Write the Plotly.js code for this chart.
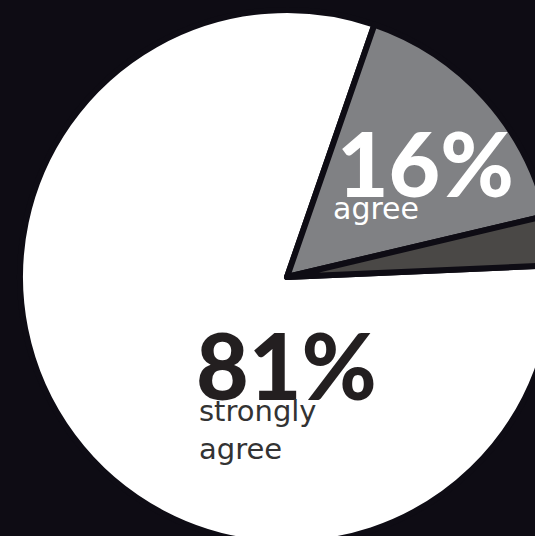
<!DOCTYPE html>
<html>
<head>
<meta charset="utf-8">
<script src="https://cdn.plot.ly/plotly-3.0.1.min.js"></script>
<style>
  html, body { margin:0; padding:0; background:#0e0c14; overflow:hidden; width:535px; height:536px; }
  #chart { position:absolute; left:0; top:0; }
</style>
</head>
<body>
<div id="chart"></div>
<script>
// Data
const categories = ["strongly agree", "agree", "other"];
const values = [81, 16, 3];
const sliceColors = ["#ffffff", "#808184", "#4a4846"];
const bigLabels = ["81%", "16%"];
const smallLabels = ["strongly<br>agree", "agree"];

const BG = "#0e0c14";
const L = 20, T = 10, S = 534;
const px = x => (x - L) / S;
const py = y => 1 - (y - T) / S;

const trace = {
  type: "pie",
  labels: categories,
  values: values,
  sort: false,
  direction: "clockwise",
  rotation: 87.5,
  textinfo: "none",
  hoverinfo: "none",
  marker: { colors: sliceColors, line: { color: BG, width: 6 } },
  showlegend: false
};

const layout = {
  width: L + S,
  height: T + S,
  margin: { l: L, t: T, r: 0, b: 0, pad: 0 },
  paper_bgcolor: BG,
  plot_bgcolor: BG,
  showlegend: false,
  annotations: [
    { text: bigLabels[1], xref: "paper", yref: "paper", x: px(425), y: py(162), xanchor: "center", yanchor: "middle",
      showarrow: false, font: { family: "Lato", size: 89, weight: 900, color: "#ffffff" } },
    { text: smallLabels[1], xref: "paper", yref: "paper", x: px(331), y: py(208), xanchor: "left", yanchor: "middle",
      showarrow: false, font: { family: "DejaVu Sans", size: 30, color: "#ffffff" } },
    { text: bigLabels[0], xref: "paper", yref: "paper", x: px(286), y: py(364), xanchor: "center", yanchor: "middle",
      showarrow: false, font: { family: "Lato", size: 91, weight: 900, color: "#231f20" } },
    { text: smallLabels[0], xref: "paper", yref: "paper", x: px(197), y: py(430), xanchor: "left", yanchor: "middle",
      align: "left", showarrow: false, font: { family: "DejaVu Sans", size: 29, color: "#333333" } }
  ]
};

Plotly.newPlot("chart", [trace], layout, { staticPlot: true, displayModeBar: false });
</script>
</body>
</html>
